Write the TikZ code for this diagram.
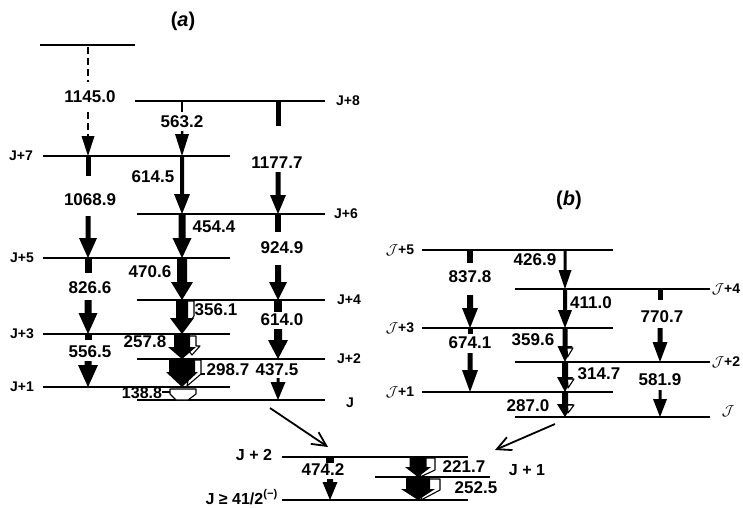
\documentclass[tikz,border=0pt]{standalone}
\usepackage{fontspec}
\setmainfont{Liberation Sans}
\usetikzlibrary{arrows.meta}
% black gamma arrow: x, ytop, ybot, shaft width, head width, head length
\newcommand\garr[6]{\fill ({#1-#4/2},#2) -- ({#1+#4/2},#2) -- ({#1+#4/2},{#3-#6}) -- ({#1+#5/2},{#3-#6}) -- (#1,#3) -- ({#1-#5/2},{#3-#6}) -- ({#1-#4/2},{#3-#6}) -- cycle;}
% black shaft piece: x, ytop, ybot, width
\newcommand\gstub[4]{\fill ({#1-#4/2},#2) rectangle ({#1+#4/2},#3);}
\begin{document}
\begin{tikzpicture}[x=1pt,y=-1pt,
  lev/.style={line width=2.6pt},
  lbl/.style={font=\fontsize{17}{17}\selectfont\bfseries, inner sep=0pt},
  lvl/.style={font=\fontsize{14}{14}\selectfont\bfseries, inner sep=0pt},
  lvlb/.style={font=\fontsize{16}{16}\selectfont\bfseries, inner sep=0pt},
  ttl/.style={font=\fontsize{20}{20}\selectfont\bfseries, inner sep=0pt},
  wpart/.style={fill=white, draw=black, line width=1.1pt, line join=round},
  lead/.style={line width=1.1pt},
  dsh/.style={line width=2.8pt, dash pattern=on 7pt off 4pt},
  big/.style={line width=1.8pt, -{Straight Barb[length=14pt,width=14pt,line width=1.8pt]}}]
\useasboundingbox (0,0) rectangle (743,507);

% ---------- titles
\node[ttl] (ta) at (183,21) {(\textit{a})};
\node[ttl] (tb) at (569,200) {(\textit{b})};

% ---------- levels (a)
\draw[lev] (40,45) -- (135,45);
\draw[lev] (135,101) -- (325,101);
\draw[lev] (43,156) -- (230,156);
\draw[lev] (137,214) -- (325,214);
\draw[lev] (43,258) -- (230,258);
\draw[lev] (137,300) -- (325,300);
\draw[lev] (43,334) -- (230,334);
\draw[lev] (137,359) -- (325,359);
\draw[lev] (43,387) -- (230,387);
\draw[lev] (137,400) -- (325,400);
\node[lvl] (a8) at (348,101) {J+8};
\node[lvl] (a7) at (21,156) {J+7};
\node[lvl] (a6) at (346,214) {J+6};
\node[lvl] (a5) at (22,258) {J+5};
\node[lvl] (a4) at (349,300) {J+4};
\node[lvl] (a3) at (22,334) {J+3};
\node[lvl] (a2) at (349,359) {J+2};
\node[lvl] (a1) at (22,387) {J+1};
\node[lvl] (a0) at (350,403) {J};

% ---------- (a) left column
\draw[dsh] (88,47) -- (88,82);
\draw[dsh] (88,112) -- (88,137);
\garr{88}{137}{156}{0}{13}{20}
\node[lbl] (t1145) at (90,97) {1145.0};
\gstub{88}{156}{176}{5}
\node[lbl] (t1068) at (90,200) {1068.9};
\garr{88}{216}{258}{5}{18}{20}
\gstub{88}{258}{273}{7}
\node[lbl] (t826) at (90,288) {826.6};
\garr{88}{300}{334}{7}{19}{21}
\gstub{88}{334}{340}{7}
\node[lbl] (t556) at (90,352) {556.5};
\garr{88}{361}{387}{7}{20}{22}

% ---------- (a) middle column
\gstub{182}{101}{112}{2}
\node[lbl] (t563) at (182,122) {563.2};
\garr{182}{131}{156}{2.5}{14}{22}
\garr{182}{156}{214}{4}{16}{20}
\node[lbl] (t614) at (153,177) {614.5};
\garr{182}{214}{258}{7}{19}{20}
\node[lbl] (t454) at (214,227) {454.4};
\garr{182}{258}{300}{10}{22}{18}
\node[lbl] (t470) at (150,272) {470.6};
% 356.1
\draw[wpart] (187,301) -- (194,301) -- (194,316) -- (184,330) -- cycle;
\garr{182}{300}{334}{12}{24}{16}
\node[lbl] (t356) at (216,310) {356.1};
% 257.8
\draw[wpart] (189,336) -- (196,336) -- (196,346) -- (200,346) -- (192,355) -- (185,346) -- (189,346) -- cycle;
\garr{182}{334}{359}{16}{28}{12}
\node[lbl] (t257) at (145,342) {257.8};
% 298.7
\draw[wpart] (192,360) -- (201,360) -- (201,374) -- (187,386) -- cycle;
\draw[lead] (201,374) -- (205,374);
\garr{182}{359}{387}{26}{32}{15}
\node[lbl] (t298) at (228,370) {298.7};
% 138.8
\draw[wpart] (170,389) -- (196,389) -- (196,394) -- (188,400) -- (176,400) -- (170,394) -- cycle;
\draw[lead] (162,392) -- (170,392);
\node[lbl, font=\fontsize{16}{16}\selectfont\bfseries] (t138) at (142,393) {138.8};

% ---------- (a) right column
\gstub{278}{101}{126}{5}
\node[lbl] (t1177) at (277,163) {1177.7};
\garr{278}{172}{214}{5}{16}{19}
\gstub{278}{214}{232}{6}
\node[lbl] (t924) at (282,248) {924.9};
\garr{278}{265}{300}{6}{18}{18}
\gstub{278}{300}{312}{8}
\node[lbl] (t6140) at (282,320) {614.0};
\garr{278}{329}{359}{8}{20}{19}
\node[lbl] (t437) at (277,370) {437.5};
\garr{278}{378}{400}{3}{15}{18}

% ---------- levels (b)
\draw[lev] (422,250) -- (613,250);
\draw[lev] (515,289) -- (710,289);
\draw[lev] (422,328) -- (613,328);
\draw[lev] (515,362) -- (710,362);
\draw[lev] (422,392) -- (613,392);
\draw[lev] (515,417) -- (710,417);
\node[lvl] (b5) at (400,250) {$\mathcal{J}$+5};
\node[lvl] (b4) at (726,289) {$\mathcal{J}$+4};
\node[lvl] (b3) at (400,328) {$\mathcal{J}$+3};
\node[lvl] (b2) at (726,362) {$\mathcal{J}$+2};
\node[lvl] (b1) at (400,392) {$\mathcal{J}$+1};
\node[lvl] (b0) at (728,411) {$\mathcal{J}$};

% ---------- (b) left column
\gstub{470}{250}{263}{6}
\node[lbl] (t837) at (470,277) {837.8};
\garr{470}{295}{328}{6}{16}{20}
\gstub{470}{328}{334}{5}
\node[lbl] (t674) at (470,343) {674.1};
\garr{470}{353}{392}{5}{16}{22}

% ---------- (b) middle column
\garr{565}{250}{289}{3}{13}{19}
\node[lbl] (t426) at (535,260) {426.9};
\garr{565}{289}{328}{4}{14}{18}
\node[lbl] (t411) at (591,303) {411.0};
\garr{565}{328}{362}{5}{15}{16}
\draw[wpart] (567,348) -- (573,348) -- (567.5,357) -- cycle;
\node[lbl] (t359) at (533,340) {359.6};
\garr{565}{362}{392}{6}{16}{15}
\draw[wpart] (567.5,379) -- (574,379) -- (568,388) -- cycle;
\node[lbl] (t314) at (599,374) {314.7};
\garr{565}{392}{417}{6}{16}{13}
\draw[wpart] (567.5,405) -- (574,405) -- (568,413) -- cycle;
\node[lbl] (t287) at (528,406) {287.0};

% ---------- (b) right column
\gstub{660}{289}{300}{5}
\node[lbl] (t770) at (662,317) {770.7};
\garr{660}{328}{362}{5}{15}{20}
\node[lbl] (t581) at (660,380) {581.9};
\garr{660}{390}{417}{3}{14}{18}

% ---------- bottom scheme
\draw[lev] (282,457) -- (468,457);
\draw[lev] (375,477) -- (490,477);
\draw[lev] (282,500) -- (468,500);
\node[lvlb] (c2) at (254,455) {J + 2};
\node[lvlb] (c1) at (527,470) {J + 1};
\node[lvlb, anchor=east] (c0) at (278,497) {J ≥ 41/2\textsuperscript{(−)}};
\gstub{330}{457}{463}{8}
\node[lbl] (t474) at (323,470) {474.2};
\garr{330}{479}{500}{6}{15}{18}
% 221.7
\draw[wpart] (424,458) -- (435,458) -- (435,470) -- (420,477) -- cycle;
\garr{418}{457}{477}{17}{26}{10}
\node[lbl] (t221) at (464,467) {221.7};
% 252.5
\draw[wpart] (426,479) -- (440,479) -- (440,490) -- (421,500) -- cycle;
\garr{418}{477}{500}{24}{34}{11}
\node[lbl] (t252) at (476,488) {252.5};

% ---------- feeding arrows
\coordinate (s1) at (270,408);
\coordinate (e1) at (328,447);
\draw[big] (s1) -- (e1);
\coordinate (s2) at (555,424);
\coordinate (e2) at (495,450);
\draw[big] (s2) -- (e2);
\end{tikzpicture}
\end{document}
